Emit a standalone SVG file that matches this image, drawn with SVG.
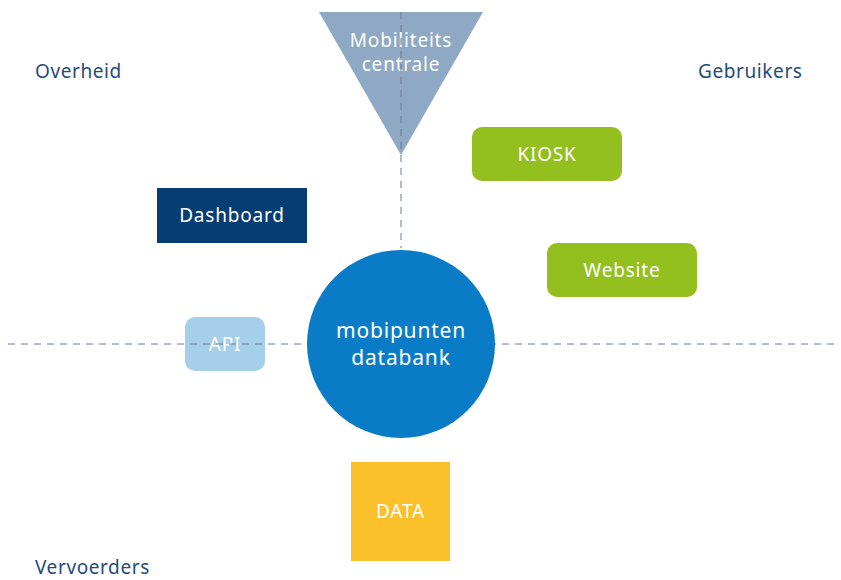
<svg xmlns="http://www.w3.org/2000/svg" width="841" height="580" viewBox="0 0 841 580">
<style>
.lbl{font-family:"Noto Sans","Liberation Sans",sans-serif;font-size:19px;letter-spacing:0.6px;fill:#1f4b7c}
.nt{font-family:"Noto Sans","Liberation Sans",sans-serif;font-size:19px;letter-spacing:0.8px;fill:#ffffff;text-anchor:middle}
.big{font-size:21px}
.dash{stroke:#6b7b8c;stroke-width:1;stroke-dasharray:7,6;fill:none}
</style>
<rect width="841" height="580" fill="#ffffff"/>
<g id="labels">
<text class="lbl" x="35" y="78">Overheid</text>
<text class="lbl" x="698" y="78">Gebruikers</text>
<text class="lbl" x="35" y="574">Vervoerders</text>
</g>
<g id="mobiliteitscentrale">
<polygon points="319,12 483,12 401,155" fill="#8fa9c4"/>
<text class="nt" x="401" y="47">Mobiliteits</text>
<text class="nt" x="401" y="71">centrale</text>
</g>
<g id="dashboard">
<rect x="157" y="188" width="150" height="55" fill="#063d73"/>
<text class="nt" x="232" y="222">Dashboard</text>
</g>
<g id="kiosk">
<rect x="472" y="127" width="150" height="54" rx="10" fill="#93c01f"/>
<text class="nt" x="547" y="161">KIOSK</text>
</g>
<g id="website">
<rect x="547" y="243" width="150" height="54" rx="10" fill="#93c01f"/>
<text class="nt" x="622" y="277">Website</text>
</g>
<g id="api">
<rect x="185" y="317" width="80" height="54" rx="10" fill="#a6cfea"/>
<text class="nt" x="225" y="351">API</text>
</g>
<g id="connectors">
<line class="dash" x1="401" y1="12" x2="401" y2="248"/>
<line class="dash" x1="8" y1="344" x2="838" y2="344"/>
</g>
<g id="databank">
<circle cx="401" cy="344" r="94" fill="#0a7cc7"/>
<text class="nt big" x="401" y="338">mobipunten</text>
<text class="nt big" x="401" y="365">databank</text>
</g>
<g id="data">
<rect x="351" y="462" width="99" height="99" fill="#fcc12a"/>
<text class="nt" x="400.5" y="518">DATA</text>
</g>
</svg>
